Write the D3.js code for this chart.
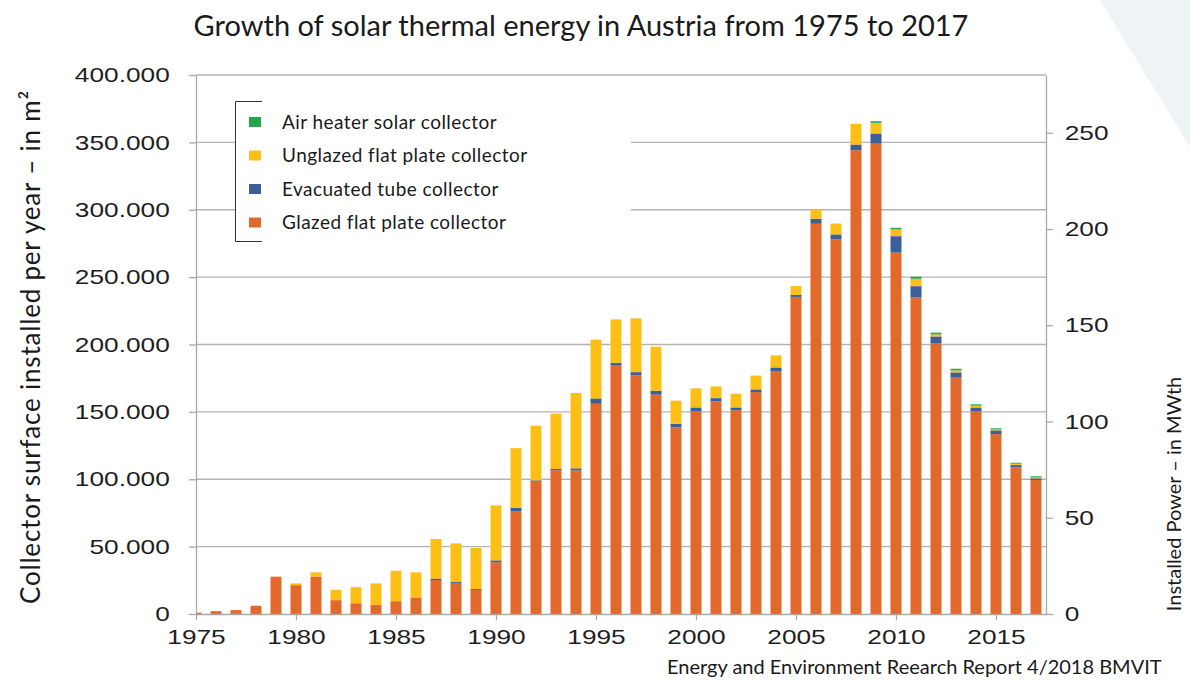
<!DOCTYPE html>
<html>
<head>
<meta charset="utf-8">
<script src="https://cdn.jsdelivr.net/npm/d3@7/dist/d3.min.js"></script>
<style>
  body { margin: 0; background: #fff; }
</style>
</head>
<body>
<div id="chart"></div>
<script>
// values, m² per year
var years = [1975, 1976, 1977, 1978, 1979, 1980, 1981, 1982, 1983, 1984,
             1985, 1986, 1987, 1988, 1989, 1990, 1991, 1992, 1993, 1994,
             1995, 1996, 1997, 1998, 1999, 2000, 2001, 2002, 2003, 2004,
             2005, 2006, 2007, 2008, 2009, 2010, 2011, 2012, 2013, 2014,
             2015, 2016, 2017];
var glazed = [1000, 2100, 2900, 6100, 27700, 21400, 27700, 10300, 8000, 6800,
              9500, 12300, 25200, 22500, 17800, 38400, 76400, 98200, 106600, 106600,
              156000, 184300, 177100, 162800, 138500, 150600, 157800, 151300, 164700, 180300,
              235300, 289600, 278200, 344200, 349000, 268200, 234900, 200800, 175400, 150400,
              133500, 108800, 99500];
var evacuated = [0, 0, 0, 0, 0, 0, 0, 0, 0, 0,
                 0, 0, 1100, 1200, 700, 1400, 2500, 1000, 1000, 1500,
                 4000, 2200, 2400, 2900, 2700, 2700, 2400, 2000, 2000, 2700,
                 1500, 3700, 3500, 4200, 7600, 12200, 8400, 5200, 3900, 2900,
                 2800, 1700, 1200];
var unglazed = [0, 0, 0, 0, 0, 1300, 3200, 7700, 11900, 15900,
                22600, 18600, 29300, 28700, 30500, 40800, 44200, 40600, 41100, 55900,
                43600, 32100, 39900, 32700, 17100, 14100, 8700, 10200, 10200, 8900,
                6500, 6900, 8100, 15400, 7900, 5000, 5500, 1500, 1500, 1300,
                700, 1000, 700];
var airHeater = [0, 0, 0, 0, 0, 0, 0, 0, 0, 0,
                 0, 0, 0, 0, 0, 0, 0, 0, 0, 0,
                 0, 0, 0, 0, 0, 0, 0, 0, 0, 0,
                 0, 0, 0, 0, 1200, 1200, 1500, 1300, 1200, 1000,
                 800, 700, 800];

var seriesKeys = ["glazed", "evacuated", "unglazed", "air"];
var seriesNames = ["Glazed flat plate collector", "Evacuated tube collector",
                   "Unglazed flat plate collector", "Air heater solar collector"];
var seriesColors = ["#e2692a", "#3b5f98", "#fdbf14", "#25a54c"];

var leftTicks = [0, 50000, 100000, 150000, 200000, 250000, 300000, 350000, 400000];
var rightTicks = [0, 50, 100, 150, 200, 250];
var yearTicks = [1975, 1980, 1985, 1990, 1995, 2000, 2005, 2010, 2015];

var width = 1190,
    height = 683;

var plot = { left: 196, right: 1046, top: 75, bottom: 614 };

var svg = d3.select('#chart')
    .append('svg')
    .attr('width', width)
    .attr('height', height);

// pale corner shape, top right
svg.append('polygon')
    .attr('points', '1100,0 1190,0 1190,147')
    .attr('fill', '#eef3f6');

var x = d3.scaleLinear().domain([1975, 2017.5]).range([plot.left, plot.right]);
var y = d3.scaleLinear().domain([0, 400000]).range([plot.bottom, plot.top]);
var y2 = d3.scaleLinear().domain([0, 280]).range([plot.bottom, plot.top]);

var rows = years.map(function (yr, i) {
    return { year: yr, glazed: glazed[i], evacuated: evacuated[i], unglazed: unglazed[i], air: airHeater[i] };
});
var stacked = d3.stack().keys(seriesKeys)(rows);

// grid
svg.append('g').selectAll('line')
    .data(leftTicks.slice(1))
    .enter()
    .append('line')
    .attr('x1', plot.left)
    .attr('x2', plot.right)
    .attr('y1', function (d) { return y(d); })
    .attr('y2', function (d) { return y(d); })
    .attr('stroke', '#b4b4b4')
    .attr('stroke-width', 1.3);

// legend box (white, hides the grid behind it)
var legend = svg.append('g');
legend.append('rect')
    .attr('x', 235).attr('y', 101)
    .attr('width', 396).attr('height', 141)
    .attr('fill', '#fff');
legend.append('path')
    .attr('d', 'M262,101.5H235.5V241.5H262')
    .attr('fill', 'none')
    .attr('stroke', '#333')
    .attr('stroke-width', 1);

var legendOrder = [3, 2, 1, 0];
legendOrder.forEach(function (k, j) {
    var cy = 122 + j * 33.5;
    legend.append('rect')
        .attr('x', 249).attr('y', cy - 5)
        .attr('width', 12).attr('height', 10)
        .attr('fill', seriesColors[k]);
    legend.append('text')
        .attr('x', 282).attr('y', cy + 6.5)
        .attr('font-family', 'Lato')
        .style('font-size', '19px')
        .style('letter-spacing', '0.45px')
        .attr('fill', '#1a1a1a')
        .text(seriesNames[k]);
});

// bars
svg.append('clipPath').attr('id', 'plotclip')
    .append('rect')
    .attr('x', plot.left).attr('y', 0)
    .attr('width', plot.right - plot.left).attr('height', plot.bottom);

var barW = (x(1) - x(0)) * 0.55;

svg.append('g')
    .attr('clip-path', 'url(#plotclip)')
    .selectAll('g')
    .data(stacked)
    .enter()
    .append('g')
    .attr('fill', function (d, i) { return seriesColors[i]; })
    .selectAll('rect')
    .data(function (d) { return d; })
    .enter()
    .append('rect')
    .attr('x', function (d) { return x(d.data.year) - barW / 2; })
    .attr('width', barW)
    .attr('y', function (d) { return y(d[1]); })
    .attr('height', function (d) { return y(d[0]) - y(d[1]); });

// axes
var fmt = function (d) { return d3.format(',')(d).replace(/,/g, '.'); };

function styleAxis(g) {
    g.select('.domain').attr('stroke', '#a8a8a8').attr('stroke-width', 1.3);
    g.selectAll('.tick line').attr('stroke', '#a8a8a8').attr('stroke-width', 1.3);
    g.selectAll('.tick text')
        .attr('font-family', 'Liberation Sans, Arial, sans-serif')
        .style('font-size', '21px')
        .attr('fill', '#1e1e1e')
        .attr('transform', 'scale(1.25,1)');
}

svg.append('g')
    .attr('transform', 'translate(' + plot.left + ',0)')
    .call(d3.axisLeft(y).tickValues(leftTicks).tickFormat(fmt).tickSize(7).tickPadding(14).tickSizeOuter(0))
    .call(styleAxis);

svg.append('g')
    .attr('transform', 'translate(' + plot.right + ',0)')
    .call(d3.axisRight(y2).tickValues(rightTicks).tickSize(7).tickPadding(8).tickSizeOuter(0))
    .call(styleAxis);

svg.append('g')
    .attr('transform', 'translate(0,' + plot.bottom + ')')
    .call(d3.axisBottom(x).tickValues(yearTicks).tickFormat(d3.format('d')).tickSize(6).tickPadding(9).tickSizeOuter(0))
    .call(styleAxis);

// titles
svg.append('text')
    .attr('x', 581).attr('y', 36)
    .attr('text-anchor', 'middle')
    .attr('font-family', 'Lato')
    .style('font-size', '29px')
    .attr('fill', '#1a1a1a')
    .text('Growth of solar thermal energy in Austria from 1975 to 2017');

svg.append('text')
    .attr('transform', 'translate(40,347) rotate(-90)')
    .attr('text-anchor', 'middle')
    .attr('font-family', 'Lato')
    .style('font-size', '26px')
    .style('letter-spacing', '0.8px')
    .attr('fill', '#1a1a1a')
    .text('Collector surface installed per year \u2013 in m\u00b2');

svg.append('text')
    .attr('transform', 'translate(1181,494) rotate(-90)')
    .attr('text-anchor', 'middle')
    .attr('font-family', 'Lato')
    .style('font-size', '20px')
    .attr('fill', '#1a1a1a')
    .text('Installed Power \u2013 in MWth');

svg.append('text')
    .attr('x', 667).attr('y', 674)
    .attr('font-family', 'Lato')
    .style('font-size', '20px')
    .attr('fill', '#1a1a1a')
    .text('Energy and Environment Reearch Report 4/2018 BMVIT');
</script>
</body>
</html>
